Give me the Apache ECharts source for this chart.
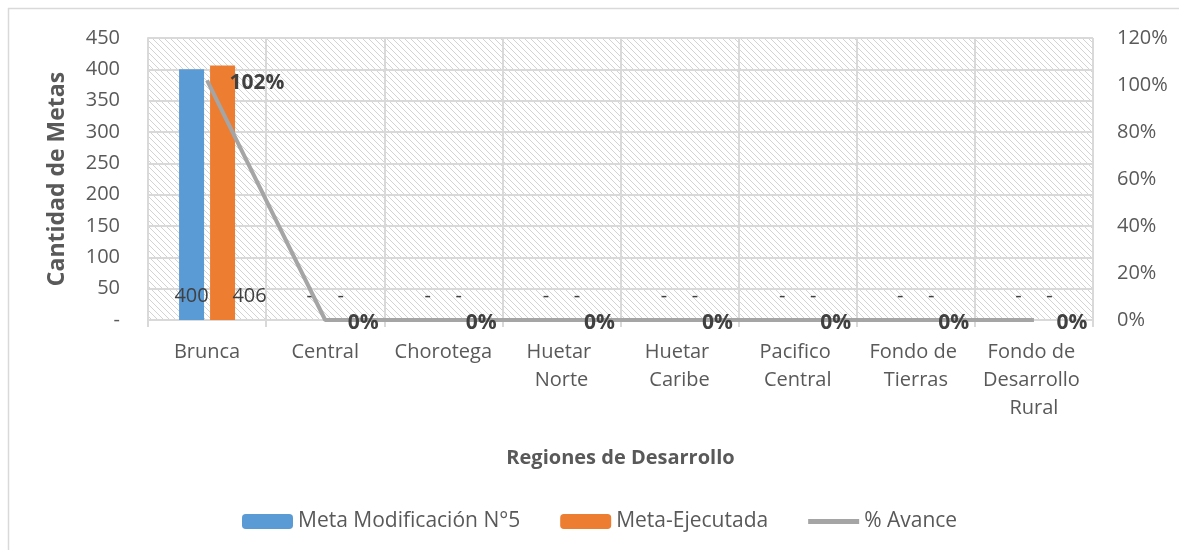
<!DOCTYPE html>
<html>
<head>
<meta charset="utf-8">
<script src="https://cdn.jsdelivr.net/npm/echarts@6/dist/echarts.min.js"></script>
<style>
  html, body { margin: 0; padding: 0; background: #fff; }
  #grafico { width: 1179px; height: 550px; }
</style>
</head>
<body>
<div id="grafico"></div>
<script>
// datos del grafico
var regiones = ['Brunca', 'Central', 'Chorotega', 'Huetar Norte', 'Huetar Caribe', 'Pacifico Central', 'Fondo de Tierras', 'Fondo de Desarrollo Rural'];
var metaModificacion = [400, 0, 0, 0, 0, 0, 0, 0];
var metaEjecutada = [406, 0, 0, 0, 0, 0, 0, 0];
var avance = [1.02, 0, 0, 0, 0, 0, 0, 0];

var fuente = '"Open Sans", "Noto Sans", sans-serif';

// trama diagonal del fondo
var trama = document.createElement('canvas');
trama.width = 6;
trama.height = 6;
var ctx = trama.getContext('2d');
ctx.fillStyle = '#ffffff';
ctx.fillRect(0, 0, 6, 6);
ctx.fillStyle = '#d3d3d3';
for (var i = 0; i < 6; i++) {
	ctx.fillRect(i, i, 1, 1);
}

function guion(v) {
	return v === 0 ? '-' : String(v);
}

var datosEjecutada = metaEjecutada.map(function (v, idx) {
	if (idx === 0) {
		return { value: v, label: { offset: [27, 0] } };
	}
	return v;
});

var dom = document.getElementById('grafico');
var myChart = echarts.init(dom);
var option = {
	animation: false,
	backgroundColor: '#ffffff',
	textStyle: { fontFamily: fuente },
	graphic: [{
		type: 'rect',
		shape: { x: 8.5, y: 8.5, width: 1300, height: 700 },
		style: { fill: 'none', stroke: '#d9d9d9', lineWidth: 1.5 },
		silent: true
	}],
	grid: {
		left: 148,
		right: 86,
		top: 38,
		bottom: 230,
		show: true,
		borderWidth: 0,
		backgroundColor: { image: trama, repeat: 'repeat' }
	},
	legend: {
		left: 237,
		top: 506,
		itemWidth: 51,
		itemHeight: 15,
		itemGap: 40,
		textStyle: { fontSize: 21, color: '#595959', fontFamily: fuente },
		data: [
			'Meta Modificación N°5',
			'Meta-Ejecutada',
			{ name: '% Avance', icon: 'path://M0,0L42,0L42,4L0,4Z', itemStyle: { color: '#a5a5a5', opacity: 1 } }
		]
	},
	xAxis: {
		type: 'category',
		data: regiones,
		name: 'Regiones de Desarrollo',
		nameLocation: 'middle',
		nameGap: 128,
		nameTextStyle: { fontSize: 20, fontWeight: 'bold', color: '#595959', fontFamily: fuente },
		axisLine: { lineStyle: { color: '#d9d9d9', width: 2 } },
		axisTick: { show: true, length: 7, lineStyle: { color: '#d9d9d9', width: 2 } },
		splitLine: { show: true, lineStyle: { color: '#d9d9d9', width: 2 } },
		axisLabel: {
			fontSize: 20,
			color: '#595959',
			margin: 18,
			lineHeight: 28,
			width: 110,
			overflow: 'break',
			interval: 0,
			fontFamily: fuente
		}
	},
	yAxis: [{
		type: 'value',
		min: 0,
		max: 450,
		interval: 50,
		name: 'Cantidad de Metas',
		nameLocation: 'middle',
		nameGap: 79,
		nameTextStyle: { fontSize: 23, fontWeight: 'bold', color: '#595959', fontFamily: fuente },
		axisLine: { show: true, lineStyle: { color: '#d9d9d9', width: 2 } },
		axisTick: { show: false },
		splitLine: { show: true, lineStyle: { color: '#d9d9d9', width: 2 } },
		axisLabel: {
			fontSize: 20,
			color: '#595959',
			margin: 28,
			fontFamily: fuente,
			formatter: function (v) { return guion(v); }
		}
	}, {
		type: 'value',
		min: 0,
		max: 1.2,
		interval: 0.2,
		axisLine: { show: false },
		axisTick: { show: false },
		splitLine: { show: false },
		axisLabel: {
			fontSize: 20,
			color: '#595959',
			margin: 24,
			fontFamily: fuente,
			formatter: function (v) { return Math.round(v * 100) + '%'; }
		}
	}],
	series: [{
		name: 'Meta Modificación N°5',
		type: 'bar',
		data: metaModificacion,
		barWidth: 25,
		barGap: '24%',
		itemStyle: { color: '#5b9bd5' },
		label: {
			show: true,
			position: 'insideBottom',
			distance: 14,
			fontSize: 20,
			color: '#404040',
			fontFamily: fuente,
			formatter: function (p) { return guion(p.value); }
		}
	}, {
		name: 'Meta-Ejecutada',
		type: 'bar',
		data: datosEjecutada,
		barWidth: 25,
		itemStyle: { color: '#ed7d31' },
		label: {
			show: true,
			position: 'insideBottom',
			distance: 14,
			fontSize: 20,
			color: '#404040',
			fontFamily: fuente,
			formatter: function (p) { return guion(p.value); }
		}
	}, {
		name: '% Avance',
		type: 'line',
		yAxisIndex: 1,
		data: avance,
		symbol: 'circle',
		symbolSize: 1,
		showSymbol: true,
		z: 5,
		lineStyle: { color: '#a5a5a5', width: 4 },
		itemStyle: { color: 'rgba(165,165,165,0)' },
		label: {
			show: true,
			position: 'right',
			distance: 22,
			offset: [0, 3],
			fontSize: 21,
			fontWeight: 'bold',
			color: '#404040',
			fontFamily: fuente,
			formatter: function (p) { return Math.round(p.value * 100) + '%'; }
		}
	}]
};

if (option && typeof option === "object") {
	myChart.setOption(option, true);
}
</script>
</body>
</html>
